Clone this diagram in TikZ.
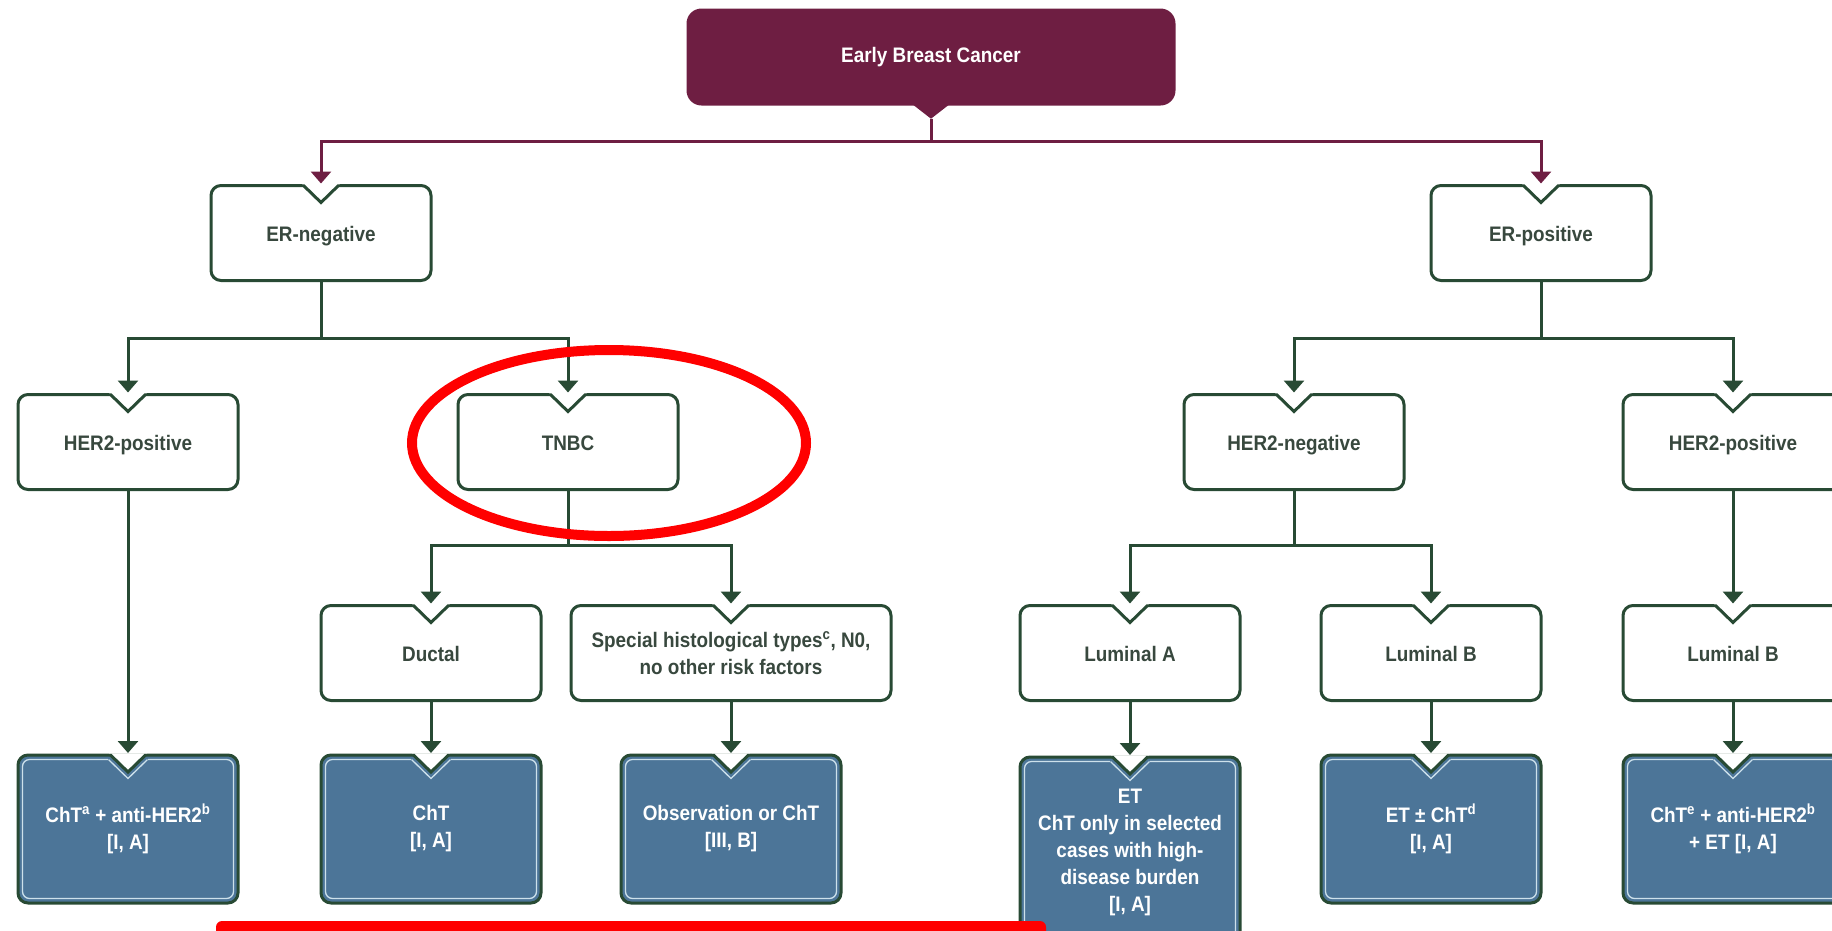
\documentclass[tikz,border=0pt]{standalone}
\usepackage{fontspec}
\newfontfamily\diafont{Liberation Sans Bold}[FakeStretch=0.9]
\usetikzlibrary{arrows.meta}
\definecolor{ebcmaroon}{RGB}{110,30,66}
\definecolor{boxgreen}{RGB}{40,74,52}
\definecolor{txtgreen}{RGB}{56,72,62}
\definecolor{treatblue}{RGB}{76,117,152}
\definecolor{paleline}{RGB}{205,225,235}
\tikzset{
  box/.style={draw=boxgreen, line width=3pt, rounded corners=10pt, fill=white, text=txtgreen,
    align=center, minimum width=220pt, minimum height=95pt, outer sep=0pt, inner sep=2pt,
    font=\diafont\fontsize{21}{27}\selectfont},
  onebox/.style={box, text height=22pt, text depth=4.5pt},
  treat/.style={box, fill=treatblue, text=white, minimum height=148pt},
  link/.style={draw=boxgreen, line width=3pt, shorten >=2pt, -{Triangle[width=20pt,length=12pt]}},
  toplink/.style={link, draw=ebcmaroon},
  notch/.style={draw=boxgreen, line width=3pt, line cap=round, line join=miter},
}
\begin{document}
\begin{tikzpicture}[x=1pt,y=-1pt]
        \useasboundingbox (0,0) rectangle (1832,930);

        \node[fill=ebcmaroon, rounded corners=15pt, minimum width=489pt, minimum height=97pt, text=white,
              font=\diafont\fontsize{21}{27}\selectfont] (EBC) at (931,57) {Early Breast Cancer};
        \fill[ebcmaroon] ([xshift=-18pt,yshift=1pt]EBC.south) -- ([xshift=18pt,yshift=1pt]EBC.south) -- ([yshift=-13pt]EBC.south) -- cycle;
        \coordinate (EBCtip) at ([yshift=-13pt]EBC.south);

        \node[onebox] (ERN)  at (321,233)  {ER-negative};
        \node[onebox] (ERP)  at (1541,233) {ER-positive};
        \node[onebox] (HPL)  at (128,442)  {HER2-positive};
        \node[onebox] (TNBC) at (568,442)  {TNBC};
        \node[onebox] (HN)   at (1294,442) {HER2-negative};
        \node[onebox] (HPR)  at (1733,442) {HER2-positive};
        \node[onebox] (DUC)  at (431,653)  {Ductal};
        \node[box, minimum width=320pt] (SHT) at (731,653) {Special histological types\textsuperscript{c}, N0,\\no other risk factors};
        \node[onebox] (LA)   at (1130,653) {Luminal A};
        \node[onebox] (LB)   at (1431,653) {Luminal B};
        \node[onebox] (LBP)  at (1733,653) {Luminal B};

        \node[treat] (ChTA) at (128,829)  {ChT\textsuperscript{a} + anti-HER2\textsuperscript{b}\\{}[I, A]};
        \node[treat] (ChT)  at (431,829)  {ChT\\{}[I, A]};
        \node[treat] (Obs)  at (731,829)  {Observation or ChT\\{}[III, B]};
        \node[treat, minimum height=190pt] (ETA) at (1130,852) {ET\\ChT only in selected\\cases with high-\\disease burden\\{}[I, A]};
        \node[treat] (ETB)  at (1431,829) {ET ± ChT\textsuperscript{d}\\{}[I, A]};
        \node[treat] (ChTE) at (1733,829) {ChT\textsuperscript{e} + anti-HER2\textsuperscript{b}\\+ ET [I, A]};

        \foreach \n in {ChTA,ChT,Obs,ETA,ETB,ChTE} {
          \draw[paleline, line width=1.3pt, rounded corners=7pt] ([xshift=4.5pt,yshift=-4.5pt]\n.north west) rectangle ([xshift=-4.5pt,yshift=4.5pt]\n.south east);
          \fill[treatblue] ([xshift=-20pt,yshift=-2.5pt]\n.north) rectangle ([xshift=20pt,yshift=-6pt]\n.north);
          \draw[paleline, line width=1.3pt] ([xshift=-19.5pt,yshift=-4.5pt]\n.north) -- ([yshift=-23.5pt]\n.north) -- ([xshift=19.5pt,yshift=-4.5pt]\n.north);
        }
        \foreach \n in {ERN,ERP,HPL,TNBC,HN,HPR,DUC,SHT,LA,LB,LBP,ChTA,ChT,Obs,ETA,ETB,ChTE} {
          \fill[white] ([xshift=-19pt,yshift=1.6pt]\n.north) -- ([xshift=19pt,yshift=1.6pt]\n.north) -- ([yshift=-17pt]\n.north) -- cycle;
          \draw[notch] ([xshift=-17.5pt]\n.north) -- ([yshift=-17pt]\n.north) -- ([xshift=17.5pt]\n.north);
        }

        \draw[toplink] (EBCtip) -- ++(0,23) -| (ERN.north);
        \draw[toplink] (EBCtip) -- ++(0,23) -| (ERP.north);

        \draw[link] (ERN.south) -- ++(0,58) -| (HPL.north);
        \draw[link] (ERN.south) -- ++(0,58) -| (TNBC.north);
        \draw[link] (TNBC.south) -- ++(0,56) -| (DUC.north);
        \draw[link] (TNBC.south) -- ++(0,56) -| (SHT.north);
        \draw[link] (ERP.south) -- ++(0,58) -| (HN.north);
        \draw[link] (ERP.south) -- ++(0,58) -| (HPR.north);
        \draw[link] (HN.south) -- ++(0,56) -| (LA.north);
        \draw[link] (HN.south) -- ++(0,56) -| (LB.north);

        \draw[link] (HPL) -- (ChTA);
        \draw[link] (DUC) -- (ChT);
        \draw[link] (SHT) -- (Obs);
        \draw[link] (LA) -- (ETA);
        \draw[link] (LB) -- (ETB);
        \draw[link] (HPR) -- (LBP);
        \draw[link] (LBP) -- (ChTE);

        \draw[red, line width=10pt] (609,443) ellipse [x radius=197pt, y radius=93pt];
        \fill[red, rounded corners=6pt] (216,921) rectangle (1046,950);
      \end{tikzpicture}
\end{document}
